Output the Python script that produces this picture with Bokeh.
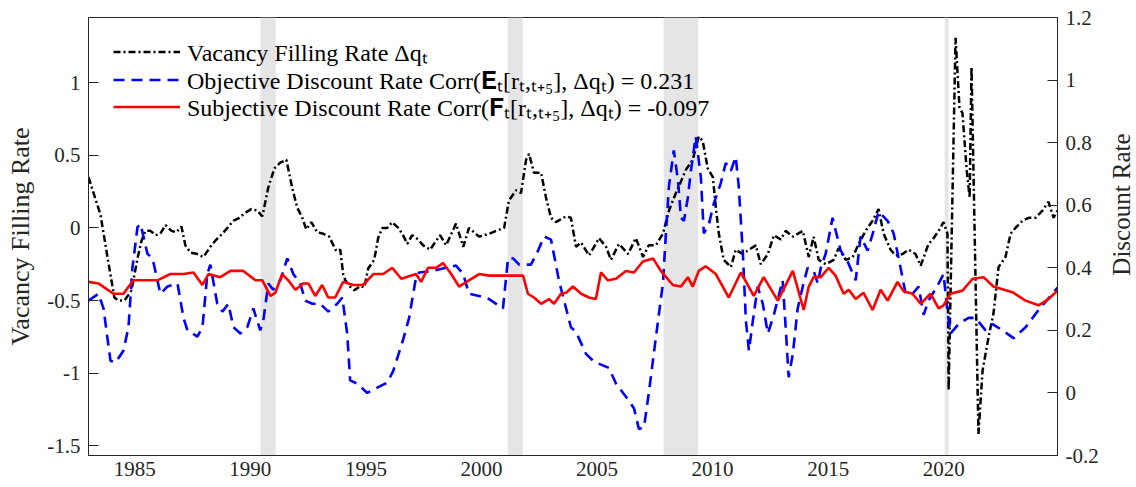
import math
from bokeh.plotting import figure
from bokeh.layouts import row
from bokeh.models import (Range1d, LinearAxis, FixedTicker, BoxAnnotation,
                          Legend, LegendItem, Label)
from bokeh.embed import file_html
from bokeh.resources import INLINE

# ---------------- data ----------------
vac_year = [1983.00, 1983.52, 1983.82, 1984.12, 1984.30, 1984.56, 1984.86, 1985.12, 1985.29, 1985.46,
            1985.68, 1985.90, 1986.11, 1986.33, 1986.59, 1986.80, 1987.02, 1987.19, 1987.41, 1987.71,
            1987.97, 1988.27, 1988.53, 1988.79, 1989.01, 1989.27, 1989.53, 1989.74, 1990.04, 1990.30,
            1990.52, 1990.78, 1991.04, 1991.30, 1991.56, 1991.82, 1992.03, 1992.25, 1992.42, 1992.64,
            1992.90, 1993.16, 1993.41, 1993.72, 1993.89, 1994.02, 1994.11, 1994.28, 1994.50, 1994.76,
            1994.93, 1995.10, 1995.36, 1995.53, 1995.71, 1995.92, 1996.14, 1996.40, 1996.61, 1996.79,
            1997.00, 1997.26, 1997.48, 1997.78, 1997.99, 1998.21, 1998.47, 1998.90, 1999.21, 1999.46,
            1999.90, 2000.33, 2000.63, 2000.98, 2001.19, 2001.50, 2001.71, 2001.93, 2002.06, 2002.27,
            2002.58, 2002.79, 2003.01, 2003.22, 2003.66, 2003.87, 2004.09, 2004.31, 2004.65, 2004.95,
            2005.08, 2005.39, 2005.60, 2005.95, 2006.34, 2006.68, 2006.99, 2007.24, 2007.55, 2007.85,
            2008.11, 2008.41, 2008.71, 2008.84, 2009.14, 2009.40, 2009.57, 2009.79, 2010.01, 2010.14,
            2010.27, 2010.48, 2010.79, 2011.00, 2011.31, 2011.57, 2011.87, 2012.08, 2012.39, 2012.65,
            2012.95, 2013.16, 2013.47, 2013.90, 2014.16, 2014.37, 2014.59, 2014.89, 2015.24, 2015.45,
            2015.76, 2016.06, 2016.32, 2016.62, 2016.92, 2017.18, 2017.40, 2017.70, 2017.92, 2018.22,
            2018.48, 2018.78, 2019.00, 2019.34, 2019.52, 2019.78, 2019.99, 2020.16, 2020.21, 2020.51,
            2020.68, 2020.81, 2020.99, 2021.12, 2021.20, 2021.50, 2021.68, 2021.94, 2022.15, 2022.37,
            2022.67, 2022.89, 2023.10, 2023.41, 2023.67, 2023.97, 2024.27, 2024.53, 2024.75, 2024.92]
vac_val = [0.35, 0.09, -0.20, -0.48, -0.50, -0.50, -0.43, -0.21, -0.09, -0.02,
           -0.02, -0.05, -0.04, 0.02, -0.02, -0.03, 0.01, -0.12, -0.17, -0.18,
           -0.20, -0.13, -0.08, -0.04, 0.00, 0.05, 0.07, 0.10, 0.13, 0.12,
           0.08, 0.28, 0.41, 0.45, 0.47, 0.27, 0.14, 0.07, -0.01, 0.04,
           -0.03, -0.04, -0.06, -0.16, -0.15, -0.32, -0.36, -0.40, -0.43, -0.40,
           -0.41, -0.28, -0.22, -0.07, 0.00, 0.00, 0.04, 0.00, -0.05, -0.11,
           -0.05, -0.08, -0.12, -0.15, -0.10, -0.05, -0.12, 0.03, -0.13, 0.00,
           -0.06, -0.04, -0.02, 0.00, 0.19, 0.26, 0.24, 0.47, 0.51, 0.38,
           0.38, 0.21, 0.07, 0.04, 0.08, 0.07, -0.13, -0.10, -0.19, -0.11,
           -0.07, -0.13, -0.22, -0.11, -0.18, -0.07, -0.20, -0.12, -0.12, -0.04,
           0.12, 0.24, 0.35, 0.40, 0.47, 0.63, 0.60, 0.41, 0.35, 0.14,
           -0.04, -0.22, -0.27, -0.15, -0.18, -0.15, -0.12, -0.25, -0.18, -0.05,
           -0.08, -0.02, -0.06, -0.02, -0.20, -0.06, -0.22, -0.25, -0.22, -0.14,
           -0.22, -0.20, -0.11, -0.02, 0.05, 0.13, -0.04, -0.15, -0.19, -0.18,
           -0.15, -0.18, -0.26, -0.11, -0.08, -0.02, 0.04, -0.04, -1.12, 1.31,
           0.83, 0.79, 0.40, 0.21, 1.11, -1.42, -0.98, -0.75, -0.59, -0.27,
           -0.20, -0.04, 0.00, 0.05, 0.07, 0.07, 0.12, 0.18, 0.07, 0.12]

obj_year = [1983.00, 1983.43, 1983.65, 1983.95, 1984.17, 1984.51, 1984.73, 1984.90, 1985.12, 1985.25,
            1985.55, 1985.77, 1986.11, 1986.41, 1986.85, 1987.11, 1987.28, 1987.71, 1987.93, 1988.14,
            1988.27, 1988.57, 1988.79, 1989.05, 1989.27, 1989.57, 1989.87, 1990.13, 1990.43, 1990.56,
            1990.78, 1990.99, 1991.30, 1991.60, 1991.86, 1992.16, 1992.38, 1992.68, 1993.03, 1993.37,
            1993.76, 1993.98, 1994.19, 1994.32, 1994.62, 1995.06, 1995.49, 1995.92, 1996.18, 1996.61,
            1996.87, 1997.17, 1997.30, 1997.91, 1998.47, 1998.90, 1999.21, 1999.46, 1999.90, 2000.33,
            2000.93, 2001.15, 2001.37, 2001.63, 2002.14, 2002.45, 2002.71, 2003.01, 2003.35, 2003.87,
            2004.09, 2004.52, 2004.87, 2005.51, 2005.82, 2006.38, 2006.60, 2006.81, 2007.03, 2007.24,
            2007.55, 2007.85, 2007.98, 2008.11, 2008.32, 2008.50, 2008.63, 2008.76, 2008.93, 2009.06,
            2009.27, 2009.49, 2009.62, 2009.84, 2010.05, 2010.35, 2010.57, 2010.79, 2011.00, 2011.13,
            2011.31, 2011.44, 2011.57, 2011.74, 2011.95, 2012.17, 2012.39, 2012.65, 2013.03, 2013.16,
            2013.29, 2013.47, 2013.68, 2013.90, 2014.11, 2014.37, 2014.55, 2014.68, 2014.89, 2015.19,
            2015.32, 2015.54, 2015.84, 2016.19, 2016.40, 2016.71, 2016.97, 2017.18, 2017.57, 2017.83,
            2018.13, 2018.35, 2018.65, 2018.91, 2019.13, 2019.34, 2019.52, 2019.78, 2019.99, 2020.16,
            2020.29, 2020.64, 2021.07, 2021.37, 2021.81, 2022.11, 2022.54, 2023.02, 2023.54, 2024.10,
            2024.70, 2024.92]
obj_val = [0.295, 0.317, 0.27, 0.103, 0.097, 0.135, 0.21, 0.40, 0.53, 0.54,
           0.445, 0.43, 0.317, 0.34, 0.35, 0.24, 0.20, 0.18, 0.21, 0.38,
           0.41, 0.285, 0.26, 0.285, 0.21, 0.19, 0.21, 0.27, 0.20, 0.23,
           0.35, 0.33, 0.36, 0.43, 0.38, 0.35, 0.295, 0.285, 0.285, 0.26,
           0.285, 0.305, 0.19, 0.04, 0.03, 0.00, 0.017, 0.033, 0.07, 0.17,
           0.24, 0.37, 0.385, 0.39, 0.40, 0.407, 0.38, 0.317, 0.31, 0.30,
           0.27, 0.43, 0.43, 0.41, 0.41, 0.455, 0.50, 0.49, 0.36, 0.21,
           0.195, 0.125, 0.10, 0.08, 0.03, -0.025, -0.05, -0.115, -0.11, 0.00,
           0.18, 0.35, 0.51, 0.66, 0.775, 0.68, 0.56, 0.55, 0.625, 0.71,
           0.82, 0.69, 0.51, 0.54, 0.605, 0.67, 0.735, 0.71, 0.755, 0.66,
           0.445, 0.23, 0.135, 0.23, 0.34, 0.285, 0.19, 0.25, 0.36, 0.21,
           0.05, 0.125, 0.27, 0.34, 0.40, 0.39, 0.35, 0.40, 0.445, 0.56,
           0.52, 0.455, 0.42, 0.36, 0.50, 0.455, 0.52, 0.58, 0.55, 0.51,
           0.40, 0.317, 0.317, 0.34, 0.25, 0.295, 0.317, 0.35, 0.38, 0.26,
           0.19, 0.22, 0.24, 0.24, 0.20, 0.22, 0.20, 0.175, 0.21, 0.265,
           0.317, 0.337]

subj_year = [1983.00, 1983.43, 1983.82, 1984.08, 1984.51, 1984.94, 1985.38, 1985.98, 1986.54, 1987.11,
             1987.54, 1987.93, 1988.19, 1988.70, 1989.14, 1989.70, 1990.22, 1990.52, 1990.87, 1991.08,
             1991.38, 1991.64, 1991.95, 1992.29, 1992.51, 1992.81, 1993.11, 1993.37, 1993.67, 1994.02,
             1994.45, 1994.88, 1995.32, 1995.75, 1996.14, 1996.53, 1997.17, 1997.39, 1997.69, 1998.04,
             1998.34, 1998.69, 1999.03, 1999.46, 1999.90, 2000.33, 2000.93, 2001.80, 2002.01, 2002.27,
             2002.58, 2002.92, 2003.14, 2003.44, 2003.66, 2003.96, 2004.31, 2004.65, 2004.95, 2005.17,
             2005.47, 2005.82, 2006.25, 2006.60, 2006.98, 2007.42, 2007.76, 2008.28, 2008.63, 2008.93,
             2009.14, 2009.40, 2009.70, 2010.14, 2010.70, 2011.22, 2011.78, 2012.21, 2012.82, 2013.47,
             2013.94, 2014.16, 2014.37, 2014.68, 2015.02, 2015.32, 2015.67, 2015.89, 2016.19, 2016.53,
             2016.92, 2017.27, 2017.57, 2018.00, 2018.26, 2018.65, 2019.00, 2019.43, 2019.78, 2019.99,
             2020.29, 2020.81, 2021.25, 2021.72, 2022.15, 2022.97, 2023.54, 2024.10, 2024.53, 2024.92]
subj_val = [0.355, 0.35, 0.33, 0.317, 0.317, 0.36, 0.36, 0.36, 0.38, 0.38,
            0.385, 0.345, 0.38, 0.37, 0.39, 0.39, 0.36, 0.36, 0.31, 0.32,
            0.38, 0.36, 0.33, 0.35, 0.35, 0.31, 0.345, 0.305, 0.305, 0.355,
            0.345, 0.345, 0.38, 0.38, 0.40, 0.365, 0.38, 0.355, 0.40, 0.40,
            0.415, 0.38, 0.34, 0.36, 0.38, 0.375, 0.375, 0.375, 0.317, 0.305,
            0.285, 0.30, 0.285, 0.317, 0.32, 0.34, 0.317, 0.305, 0.30, 0.385,
            0.36, 0.365, 0.39, 0.385, 0.42, 0.43, 0.39, 0.345, 0.34, 0.37,
            0.34, 0.39, 0.405, 0.38, 0.305, 0.385, 0.31, 0.37, 0.295, 0.39,
            0.265, 0.34, 0.37, 0.37, 0.40, 0.375, 0.317, 0.33, 0.30, 0.32,
            0.265, 0.33, 0.295, 0.355, 0.325, 0.317, 0.285, 0.317, 0.27, 0.28,
            0.317, 0.327, 0.365, 0.37, 0.34, 0.322, 0.295, 0.28, 0.30, 0.327]

rec_start = [1990.44, 2001.14, 2007.88, 2020.04]
rec_end = [1991.10, 2001.79, 2009.38, 2020.21]

x_ticks = [1985, 1990, 1995, 2000, 2005, 2010, 2015, 2020]
left_ticks = [-1.5, -1.0, -0.5, 0.0, 0.5, 1.0]
left_labels = ["-1.5", "-1", "-0.5", "0", "0.5", "1"]
right_ticks = [-0.2, 0.0, 0.2, 0.4, 0.6, 0.8, 1.0, 1.2]
right_labels = ["-0.2", "0", "0.2", "0.4", "0.6", "0.8", "1", "1.2"]

legend_labels = [
    "Vacancy Filling Rate \u0394q\u209c",
    "Objective Discount Rate Corr(\U0001D404\u209c[r\u209c,\u209c\u208a\u2085], \u0394q\u209c) = 0.231",
    "Subjective Discount Rate Corr(\U0001D405\u209c[r\u209c,\u209c\u208a\u2085], \u0394q\u209c) = -0.097",
]
right_title = "Discount Rate"

# ---------------- figure ----------------
FONT = "Liberation Serif"
TICK_FONT = "Liberation Serif, serif"
AX = "#262626"

p = figure(width=1101, height=486,
           x_range=Range1d(1983.0, 2024.92), y_range=Range1d(-1.568, 1.45),
           output_backend="svg", toolbar_location=None,
           min_border_left=88, min_border_right=42, min_border_top=17, min_border_bottom=31)
p.extra_y_ranges = {"disc": Range1d(-0.2, 1.2)}
p.xgrid.visible = False
p.ygrid.visible = False
p.outline_line_color = AX
p.outline_line_width = 1
p.background_fill_color = "white"
p.border_fill_color = "white"

for s, e in zip(rec_start, rec_end):
    p.add_layout(BoxAnnotation(left=s, right=e, fill_color="#e5e5e5", fill_alpha=1.0,
                               line_color=None, level="underlay"))

r_vac = p.line(vac_year, vac_val, line_color="black", line_width=2.5, line_dash="7 3 2 3")
r_obj = p.line(obj_year, obj_val, line_color="#0000ff", line_width=2.6, line_dash="11 7",
               y_range_name="disc")
r_subj = p.line(subj_year, subj_val, line_color="#ff0000", line_width=2.6, y_range_name="disc")

# x axis
xa = p.xaxis[0]
xa.ticker = FixedTicker(ticks=x_ticks)
xa.major_tick_in = 0
xa.major_tick_out = 0
xa.minor_tick_in = 0
xa.minor_tick_out = 0
xa.axis_line_color = AX
xa.major_label_text_font = TICK_FONT
xa.major_label_text_font_size = "21px"
xa.major_label_text_color = AX
xa.major_label_standoff = 6

# left axis
ya = p.yaxis[0]
ya.ticker = FixedTicker(ticks=left_ticks)
ya.major_label_overrides = dict(zip(left_ticks, left_labels))
ya.major_tick_in = 10
ya.major_tick_out = 0
ya.minor_tick_in = 0
ya.minor_tick_out = 0
ya.major_tick_line_color = AX
ya.axis_line_color = AX
ya.major_label_text_font = TICK_FONT
ya.major_label_text_font_size = "21px"
ya.major_label_text_color = AX
ya.major_label_standoff = 8
ya.axis_label = "Vacancy Filling Rate"
ya.axis_label_text_font = FONT
ya.axis_label_text_font_size = "26px"
ya.axis_label_text_font_style = "normal"
ya.axis_label_text_color = AX
ya.axis_label_standoff = 9

# right axis
ra = LinearAxis(y_range_name="disc", ticker=FixedTicker(ticks=right_ticks))
ra.major_label_overrides = dict(zip(right_ticks, right_labels))
ra.major_tick_in = 10
ra.major_tick_out = 0
ra.minor_tick_in = 0
ra.minor_tick_out = 0
ra.major_tick_line_color = AX
ra.axis_line_color = AX
ra.major_label_text_font = TICK_FONT
ra.major_label_text_font_size = "21px"
ra.major_label_text_color = AX
ra.major_label_standoff = 8
p.add_layout(ra, "right")

# legend: one box per row so the row pitch matches the reference
leg_rows = [(r_vac, 387), (r_obj, 359), (r_subj, 332)]
for (rend, ybot), lab in zip(leg_rows, legend_labels):
    lg = Legend(items=[LegendItem(label=lab, renderers=[rend])],
                location=(25, ybot), padding=0, margin=0, spacing=0,
                glyph_width=67, glyph_height=27, label_height=27, label_standoff=7,
                border_line_color=None, background_fill_alpha=0.0,
                label_text_font=FONT, label_text_font_size="24px", label_text_color="black",
                label_text_line_height=1.0)
    p.add_layout(lg)

# narrow strip on the right that carries the right-axis title (bottom-to-top)
q = figure(width=33, height=486, output_backend="svg", toolbar_location=None,
           x_axis_type=None, y_axis_type=None, min_border=0,
           min_border_left=0, min_border_right=0, min_border_top=0, min_border_bottom=0)
q.outline_line_color = None
q.background_fill_color = "white"
q.border_fill_color = "white"
q.xgrid.visible = False
q.ygrid.visible = False
q.add_layout(Label(x=20, y=251, x_units="screen", y_units="screen",
                   text=right_title, angle=math.pi / 2,
                   text_align="center", text_baseline="middle",
                   text_font=FONT, text_font_size="25px", text_color=AX))

layout = row(p, q, spacing=0)
open("out.html", "w").write(file_html(layout, INLINE))
